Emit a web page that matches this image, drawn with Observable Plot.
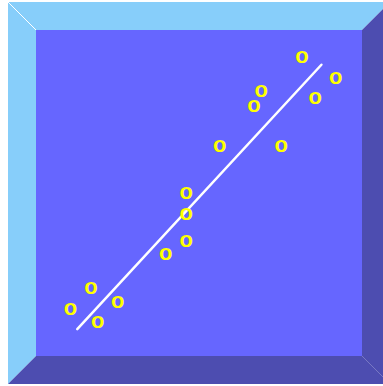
<!DOCTYPE html>
<html>
<head>
<meta charset="utf-8">
<script src="https://cdn.jsdelivr.net/npm/d3@7"></script>
<script src="https://cdn.jsdelivr.net/npm/@observablehq/plot@0.6"></script>
<style>
  html, body { margin: 0; padding: 0; background: #ffffff; }
  svg { display: block; }
</style>
</head>
<body>
<div id="chart"></div>
<script>
// Data (arbitrary units, panel spans 0..10 on both axes)
const xValues = [8.14, 9.18, 6.89, 6.67, 8.55, 5.62, 7.51, 4.59, 4.59, 4.59, 3.96, 1.67, 2.49, 1.04, 1.88];
const yValues = [9.16, 8.51, 8.12, 7.67, 7.89, 6.42, 6.42, 4.99, 4.35, 3.52, 3.11, 2.08, 1.63, 1.43, 1.02];
const fitX = [1.25, 8.74];
const fitY = [0.84, 8.95];

const points = xValues.map((x, i) => ({x, y: yValues[i]}));
const fit = fitX.map((x, i) => ({x, y: fitY[i]}));

const LIGHT = "#87cefa";
const INNER = "#6666ff";
const DARK = "#4d4db0";

// Bevelled frame around the plotting panel
function bevel(index, scales, values, dims) {
  const x0 = scales.x(0), x1 = scales.x(10), y0 = scales.y(10), y1 = scales.y(0);
  const b = 28;
  const ox0 = x0 - b, ox1 = x1 + b, oy0 = y0 - b, oy1 = y1 + b;
  const g = d3.create("svg:g");
  const poly = (pts, fill) => g.append("polygon")
    .attr("points", pts.map(p => p.join(",")).join(" "))
    .attr("fill", fill);
  poly([[ox0, oy0], [ox1, oy0], [x1, y0], [x0, y0]], LIGHT);           // top
  poly([[ox0, oy0], [x0, y0], [x0, y1], [ox0, oy1]], LIGHT);           // left
  poly([[ox1, oy0], [ox1, oy1], [x1, y1], [x1, y0]], DARK);            // right
  poly([[ox0, oy1], [x0, y1], [x1, y1], [ox1, oy1]], DARK);            // bottom
  g.append("rect").attr("x", x0).attr("y", y0)
    .attr("width", x1 - x0).attr("height", y1 - y0).attr("fill", INNER);
  g.append("line").attr("x1", ox0).attr("y1", oy0).attr("x2", x0).attr("y2", y0)
    .attr("stroke", "#ffffff").attr("stroke-width", 1);
  return g.node();
}

const chart = Plot.plot({
  width: 383,
  height: 386,
  margin: 0,
  style: {background: "#ffffff"},
  x: {domain: [0, 10], range: [36, 362], axis: null},
  y: {domain: [0, 10], range: [356, 30], axis: null},
  marks: [
    bevel,
    Plot.line(fit, {x: "x", y: "y", stroke: "#ffffff", strokeWidth: 2.5}),
    Plot.text(points, {
      x: "x", y: "y", text: () => "o",
      fill: "#ffff00", fontSize: 22, fontWeight: "bold",
      fontFamily: "Liberation Sans", lineAnchor: "middle", dy: -2
    })
  ]
});
document.getElementById("chart").appendChild(chart);
</script>
</body>
</html>
